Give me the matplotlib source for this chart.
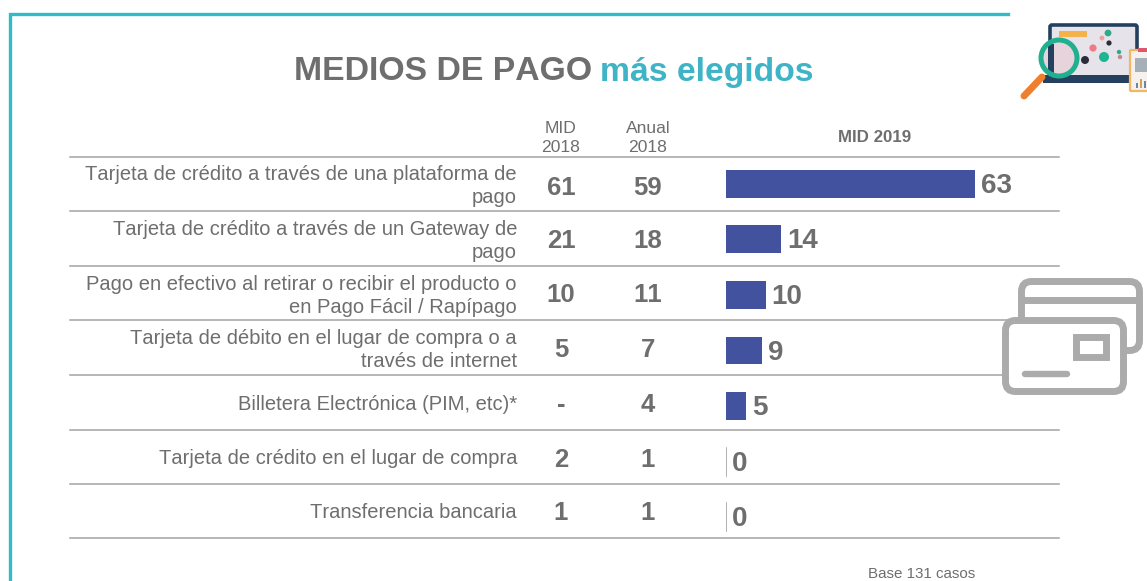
#!/usr/bin/python3
import matplotlib
matplotlib.use('Agg')
import matplotlib.pyplot as plt
from matplotlib.patches import FancyBboxPatch, Rectangle, Circle

plt.rcParams['font.family'] = ['Liberation Sans', 'DejaVu Sans']
plt.rcParams['text.kerning_factor'] = 6

categories = [
    "Tarjeta de crédito a través de una plataforma de\npago",
    "Tarjeta de crédito a través de un Gateway de\npago",
    "Pago en efectivo al retirar o recibir el producto o\nen Pago Fácil / Rapípago",
    "Tarjeta de débito en el lugar de compra o a\ntravés de internet",
    "Billetera Electrónica (PIM, etc)*",
    "Tarjeta de crédito en el lugar de compra",
    "Transferencia bancaria",
]
mid_2018 = ["61", "21", "10", "5", "-", "2", "1"]
anual_2018 = ["59", "18", "11", "7", "4", "1", "1"]
mid_2019 = [63, 14, 10, 9, 5, 0, 0]

W, H = 1147, 581
GREY = '#6e6e6e'
TEAL = '#2fbcc8'
BLUE = '#43529f'
LINE = '#a3a3a3'
ICON = '#ababab'


def rrect(ax, x, y, w, h, r, **kw):
    p = FancyBboxPatch((x + r, y + r), w - 2 * r, h - 2 * r,
                       boxstyle="round,pad={0},rounding_size={0}".format(r), **kw)
    ax.add_patch(p)
    return p


def draw_laptop(ax):
    # magnifier + laptop, top right
    ax.add_patch(Rectangle((1050, 25), 87, 50, fc='#e6e3ea', ec='none', zorder=2))
    rrect(ax, 1050, 25, 87, 54, 2, fc='none', ec='#25405f', lw=2.6, zorder=3)
    ax.add_patch(Rectangle((1043, 75), 90, 8, fc='#25405f', zorder=3))
    ax.add_patch(Rectangle((1059, 31), 28, 6, fc='#f5b24a', zorder=4))
    dots = [(1108, 33, 3.4, '#2fa98c'), (1102, 38, 2.4, '#e8a0a0'), (1109, 43, 2.6, '#2b2b3a'),
            (1093, 48, 3.6, '#ee7b84'), (1085, 60, 4, '#2b2b3a'), (1104, 57, 5, '#1fb492'),
            (1119, 52, 2.2, '#2fa98c'), (1120, 57, 2.2, '#c08a90')]
    for x, y, r, c in dots:
        ax.add_patch(Circle((x, y), r, fc=c, ec='none', zorder=4))
    ax.plot([1042, 1024], [77, 96], color='#ef7f2d', lw=5, solid_capstyle='round', zorder=5)
    ax.add_patch(Circle((1059, 58), 18, fc='#e6d3dc', ec='none', zorder=5))
    ax.add_patch(Rectangle((1048, 44), 6, 29, fc='#25405f', zorder=5))
    ax.add_patch(Circle((1059, 58), 18, fc='none', ec='#20b08f', lw=3.6, zorder=6))
    # clipboard
    rrect(ax, 1130, 50, 20, 41, 1, fc='#f4f1ee', ec='#f3b760', lw=1.6, zorder=7)
    ax.add_patch(Rectangle((1138, 48), 9, 4, fc='#e0566b', zorder=8))
    ax.add_patch(Rectangle((1135, 58), 12, 14, fc='#a5b0b8', zorder=8))
    for x, h, c in zip([1136, 1140, 1144], [5, 9, 7], ['#6a86a8', '#d8a050', '#6a86a8']):
        ax.add_patch(Rectangle((x, 88 - h), 2, h, fc=c, zorder=8))


def draw_cards(ax):
    # two credit cards outline
    rrect(ax, 1021.5, 281.5, 118, 69, 10, fc='white', ec=ICON, lw=5, zorder=3)
    ax.plot([1023, 1138], [300, 300], color=ICON, lw=5, solid_capstyle='butt', zorder=3)
    rrect(ax, 1005.5, 320.5, 118, 71, 10, fc='white', ec=ICON, lw=5, zorder=4)
    ax.add_patch(Rectangle((1076, 337), 30, 20, fc='white', ec=ICON, lw=5, zorder=5))
    ax.plot([1025, 1067], [374, 374], color=ICON, lw=4.6, solid_capstyle='round', zorder=5)


def main():
    fig = plt.figure(figsize=(W / 100, H / 100), dpi=100)
    ax = fig.add_axes([0, 0, 1, 1])
    ax.set_xlim(0, W)
    ax.set_ylim(H, 0)
    ax.axis('off')

    # frame
    ax.plot([10, 10, 1008], [581, 14, 14], color=TEAL, lw=2.4, solid_joinstyle='miter')

    # title, two colours side by side
    ax.text(294, 72, "MEDIOS DE PAGO", fontsize=24.3, fontweight='bold', color=GREY,
            va='center', ha='left')
    ax.text(600, 72, "más elegidos", fontsize=24.3, fontweight='bold', color='#3eb4c6',
            va='center', ha='left')

    # column heads
    ax.text(561, 138, "MID\n2018", fontsize=12.6, color=GREY, ha='center', va='center', linespacing=1.3)
    ax.text(648, 138, "Anual\n2018", fontsize=12.6, color=GREY, ha='center', va='center', linespacing=1.3)
    ax.text(875, 138, "MID 2019", fontsize=12.2, fontweight='bold', color=GREY, ha='center', va='center')

    # rows
    rows = [157, 211, 266, 320, 375, 430, 484, 538]
    for y in rows:
        ax.plot([70, 1059], [y, y], color=LINE, lw=1.1, zorder=1)
    label_y = [186, 241, 296, 350, 404, 459, 513]
    num_y = [188, 241, 295, 350, 405, 460, 513]
    for i, cat in enumerate(categories):
        ax.text(517, label_y[i], cat, fontsize=14.5, color=GREY,
                ha='right', va='center', linespacing=1.27)
        ax.text(561, num_y[i], mid_2018[i], fontsize=18.5, fontweight='bold', color=GREY,
                ha='center', va='center')
        ax.text(648, num_y[i], anual_2018[i], fontsize=18.5, fontweight='bold', color=GREY,
                ha='center', va='center')

    # bars on their own axes, scale from the 63 bar
    bar_ax = fig.add_axes([726 / W, 1 - 545 / H, 333 / W, 389 / H])
    bar_ax.set_xlim(0, 333 / 3.95)
    bar_ax.set_ylim(len(mid_2019) - 0.5, -0.5)
    bar_ax.axis('off')
    bar_ax.patch.set_alpha(0)
    ypos = range(len(mid_2019))
    bar_ax.barh(ypos, mid_2019, height=0.5, color=BLUE)
    for i, v in enumerate(mid_2019):
        if v == 0:
            bar_ax.plot([0, 0], [i - 0.25, i + 0.25], color=LINE, lw=1.2)
        bar_ax.annotate(str(v), (v, i), xytext=(6, -2), textcoords='offset pixels',
                        fontsize=20, fontweight='bold', color=GREY, va='center', ha='left')

    ax.text(922, 574, "Base 131 casos", fontsize=10.9, color=GREY, ha='center', va='center')

    draw_laptop(ax)
    draw_cards(ax)

    fig.savefig('out.png', dpi=100)


if __name__ == '__main__':
    main()
